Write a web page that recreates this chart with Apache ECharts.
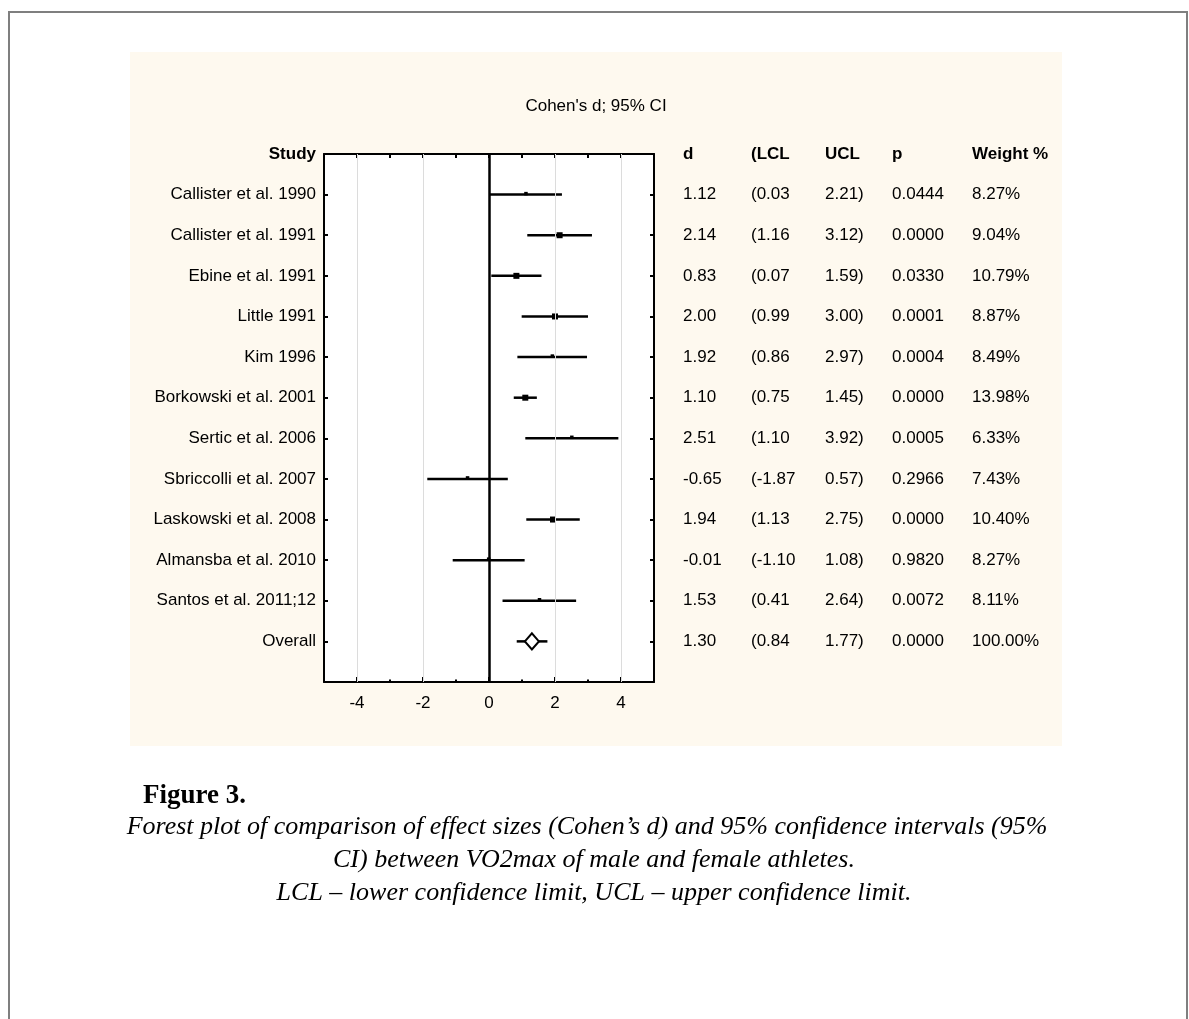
<!DOCTYPE html>
<html>
<head>
<meta charset="utf-8">
<title>Forest plot</title>
<script src="https://cdn.jsdelivr.net/npm/echarts@6/dist/echarts.min.js"></script>
<style>
  html, body { margin: 0; padding: 0; background: #fff; }
  #chart { width: 1189px; height: 1019px; }
</style>
</head>
<body>
<div id="chart"></div>
<script>
// study rows, last one is the pooled estimate
var studies = [
  "Callister et al. 1990", "Callister et al. 1991", "Ebine et al. 1991", "Little 1991",
  "Kim 1996", "Borkowski et al. 2001", "Sertic et al. 2006", "Sbriccolli et al. 2007",
  "Laskowski et al. 2008", "Almansba et al. 2010", "Santos et al. 2011;12", "Overall"
];
var dVals = [1.12, 2.14, 0.83, 2.00, 1.92, 1.10, 2.51, -0.65, 1.94, -0.01, 1.53, 1.30];
var lclVals = [0.03, 1.16, 0.07, 0.99, 0.86, 0.75, 1.10, -1.87, 1.13, -1.10, 0.41, 0.84];
var uclVals = [2.21, 3.12, 1.59, 3.00, 2.97, 1.45, 3.92, 0.57, 2.75, 1.08, 2.64, 1.77];
var pVals = ["0.0444", "0.0000", "0.0330", "0.0001", "0.0004", "0.0000", "0.0005",
  "0.2966", "0.0000", "0.9820", "0.0072", "0.0000"];
var weights = [8.27, 9.04, 10.79, 8.87, 8.49, 13.98, 6.33, 7.43, 10.40, 8.27, 8.11, 100.00];
var headers = ["d", "(LCL", "UCL", "p", "Weight %"];
var xTicks = [-4, -2, 0, 2, 4];
var xMinorTicks = [-3, -1, 1, 3];

// layout
var colX = [0, 68, 142, 209, 289];
var SANS = "'Liberation Sans', Arial, sans-serif";
var SERIF = "'Liberation Serif', 'Times New Roman', serif";
var FS = 17;

var nRows = studies.length;
var overallIdx = nRows - 1;

// CI rows
var ciData = [];
for (var i = 0; i < overallIdx; i++) {
  ciData.push([lclVals[i], uclVals[i], dVals[i], i + 1, weights[i]]);
}
var overallData = [[lclVals[overallIdx], uclVals[overallIdx], dVals[overallIdx], overallIdx + 1]];

// table cells
var cells = [];
headers.forEach(function (h, c) { cells.push({ value: [colX[c], 0], text: h, bold: true }); });
for (var r = 0; r < nRows; r++) {
  var row = [
    dVals[r].toFixed(2),
    "(" + lclVals[r].toFixed(2),
    uclVals[r].toFixed(2) + ")",
    pVals[r],
    weights[r].toFixed(2) + "%"
  ];
  row.forEach(function (t, c) { cells.push({ value: [colX[c], r + 1], text: t, bold: false }); });
}

var chart = echarts.init(document.getElementById("chart"));

var blackLine = { color: "#000", width: 2 };

var option = {
  animation: false,
  backgroundColor: "#fff",
  graphic: [
    {
      type: "rect", z: -100, silent: true,
      shape: { x: 9, y: 12, width: 1178, height: 1100 },
      style: { fill: null, stroke: "#7f7f7f", lineWidth: 2 }
    },
    {
      type: "rect", z: -100, silent: true,
      shape: { x: 130, y: 52, width: 932, height: 694 },
      style: { fill: "#fef9ef" }
    },
    {
      type: "text", x: 596, y: 106,
      style: { text: "Cohen's d; 95% CI", font: FS + "px " + SANS, fill: "#000",
        align: "center", verticalAlign: "middle", textAlign: "center", textVerticalAlign: "middle" }
    },
    {
      type: "text", x: 143, y: 810,
      style: { text: "Figure 3.", font: "bold 27px " + SERIF, fill: "#000",
        align: "left", verticalAlign: "bottom", textAlign: "left", textVerticalAlign: "bottom" }
    },
    {
      type: "text", x: 587, y: 840,
      style: { text: "Forest plot of comparison of effect sizes (Cohen\u2019s d) and 95% confidence intervals (95%",
        font: "italic 26px " + SERIF, fill: "#000",
        align: "center", verticalAlign: "bottom", textAlign: "center", textVerticalAlign: "bottom" }
    },
    {
      type: "text", x: 594, y: 873,
      style: { text: "CI) between VO2max of male and female athletes.",
        font: "italic 26px " + SERIF, fill: "#000",
        align: "center", verticalAlign: "bottom", textAlign: "center", textVerticalAlign: "bottom" }
    },
    {
      type: "text", x: 594, y: 906,
      style: { text: "LCL \u2013 lower confidence limit, UCL \u2013 upper confidence limit.",
        font: "italic 26px " + SERIF, fill: "#000",
        align: "center", verticalAlign: "bottom", textAlign: "center", textVerticalAlign: "bottom" }
    }
  ],
  grid: [
    { left: 324, top: 154, width: 330, height: 528, show: true, backgroundColor: "#fff", borderWidth: 0 },
    { left: 683, top: 154, width: 300, height: 528 }
  ],
  xAxis: [
    {
      gridIndex: 0, type: "value", position: "bottom", min: -5, max: 5,
      axisLine: { onZero: false, lineStyle: blackLine },
      axisTick: { inside: true, length: 5, customValues: xTicks, lineStyle: blackLine },
      axisLabel: { customValues: xTicks, color: "#000", fontSize: FS, fontFamily: SANS, margin: 13 },
      splitLine: { show: false }
    },
    {
      gridIndex: 0, type: "value", position: "bottom", min: -5, max: 5,
      axisLine: { show: false, onZero: false },
      axisTick: { inside: true, length: 2.5, customValues: xMinorTicks, lineStyle: blackLine },
      axisLabel: { show: false },
      splitLine: { show: false }
    },
    {
      gridIndex: 0, type: "value", position: "top", min: -5, max: 5, interval: 1,
      axisLine: { onZero: false, lineStyle: blackLine },
      axisTick: { inside: true, length: 4, lineStyle: blackLine },
      axisLabel: { show: false },
      splitLine: { show: false }
    },
    { gridIndex: 1, type: "value", min: 0, max: 300, show: false }
  ],
  yAxis: [
    {
      gridIndex: 0, type: "value", position: "left", min: 0, max: nRows + 1, interval: 1, inverse: true,
      axisLine: { show: true, onZero: false, lineStyle: blackLine },
      axisTick: { show: true, inside: true, length: 4, lineStyle: blackLine },
      axisLabel: {
        color: "#000", fontSize: FS, fontFamily: SANS, margin: 8,
        formatter: function (v) {
          if (v === 0) return "{b|Study}";
          return studies[v - 1] || "";
        },
        rich: { b: { fontWeight: "bold", fontSize: FS, fontFamily: SANS, color: "#000" } }
      },
      splitLine: { show: false }
    },
    {
      gridIndex: 0, type: "value", position: "right", min: 0, max: nRows + 1, interval: 1, inverse: true,
      axisLine: { show: true, onZero: false, lineStyle: blackLine },
      axisTick: { show: true, inside: true, length: 4, lineStyle: blackLine },
      axisLabel: { show: false },
      splitLine: { show: false }
    },
    { gridIndex: 1, type: "value", min: 0, max: nRows + 1, inverse: true, show: false }
  ],
  series: [
    {
      // reference lines
      type: "scatter", xAxisIndex: 0, yAxisIndex: 0, data: [], z: 1, silent: true,
      markLine: {
        silent: true, symbol: ["none", "none"], label: { show: false },
        data: xTicks.map(function (t) {
          return t === 0
            ? { xAxis: t, lineStyle: { color: "#000", width: 2.5, type: "solid" } }
            : { xAxis: t, lineStyle: { color: "#dcdcdc", width: 1, type: "solid" } };
        })
      }
    },
    {
      type: "custom", xAxisIndex: 0, yAxisIndex: 0, z: 3, silent: true,
      data: ciData,
      renderItem: function (params, api) {
        var a = api.coord([api.value(0), api.value(3)]);
        var b = api.coord([api.value(1), api.value(3)]);
        var m = api.coord([api.value(2), api.value(3)]);
        var s = api.value(4) > 8.6 ? 6 : 3.5;
        return {
          type: "group",
          children: [
            { type: "line", shape: { x1: a[0], y1: a[1], x2: b[0], y2: b[1] },
              style: { stroke: "#000", lineWidth: 2.5 } },
            { type: "rect", shape: { x: m[0] - s / 2, y: m[1] - s / 2 - (s < 5 ? 1 : 0), width: s, height: s },
              style: { fill: "#000" } }
          ]
        };
      }
    },
    {
      type: "custom", xAxisIndex: 0, yAxisIndex: 0, z: 3, silent: true,
      data: overallData,
      renderItem: function (params, api) {
        var a = api.coord([api.value(0), api.value(3)]);
        var b = api.coord([api.value(1), api.value(3)]);
        var m = api.coord([api.value(2), api.value(3)]);
        var hw = 7, hh = 8;
        return {
          type: "group",
          children: [
            { type: "line", shape: { x1: a[0], y1: a[1], x2: b[0], y2: b[1] },
              style: { stroke: "#000", lineWidth: 2.5 } },
            { type: "polygon",
              shape: { points: [[m[0] - hw, m[1]], [m[0], m[1] - hh], [m[0] + hw, m[1]], [m[0], m[1] + hh]] },
              style: { fill: "#fff", stroke: "#000", lineWidth: 2 } }
          ]
        };
      }
    },
    {
      type: "custom", xAxisIndex: 3, yAxisIndex: 2, silent: true, clip: false,
      data: cells,
      renderItem: function (params, api) {
        var p = api.coord([api.value(0), api.value(1)]);
        var cell = cells[params.dataIndex];
        return {
          type: "text", x: p[0], y: p[1],
          style: {
            text: cell.text,
            font: (cell.bold ? "bold " : "") + FS + "px " + SANS,
            fill: "#000",
            align: "left", verticalAlign: "middle", textAlign: "left", textVerticalAlign: "middle"
          }
        };
      }
    }
  ]
};

chart.setOption(option);
</script>
</body>
</html>
